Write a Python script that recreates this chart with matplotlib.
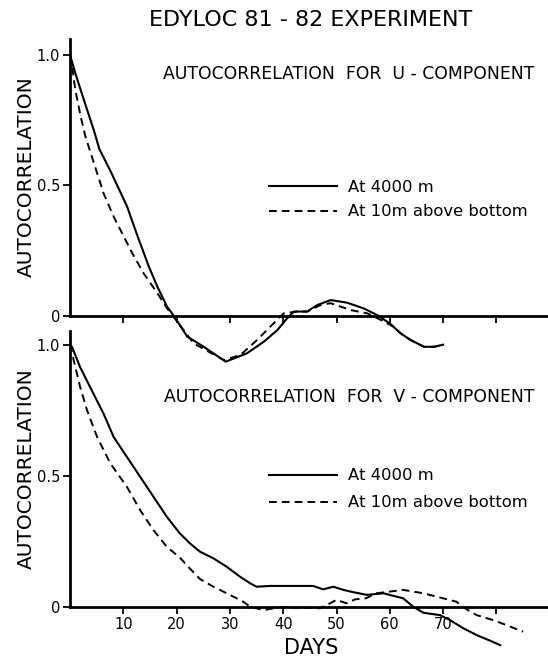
import matplotlib
matplotlib.use("Agg")
import matplotlib.pyplot as plt

# U-component autocorrelation (top panel)
u_days_4000 = [0, 1, 2.6, 4.5, 5.5, 7.6, 10.7, 12.6, 14.8, 16.4, 18.2, 19.5, 22, 25.1,
               29.2, 33.2, 36.4, 38.9, 40.7, 42, 44.5, 46.4, 48.9, 52, 55.1, 57.6,
               60.1, 62, 63.9, 66.4, 68.3, 70]
u_vals_4000 = [1.0, 0.93, 0.828, 0.71, 0.64, 0.555, 0.42, 0.31, 0.189, 0.112, 0.036,
               0.0, -0.079, -0.118, -0.175, -0.143, -0.098, -0.054, -0.01, 0.017, 0.017,
               0.042, 0.061, 0.051, 0.029, 0.004, -0.03, -0.066, -0.092, -0.118, -0.118,
               -0.11]
u_days_10m = [0, 0.4, 1.0, 2.0, 2.9, 4.5, 6.3, 8.2, 10.1, 11.7, 13.8, 16.4, 18.2, 19.5,
              23.2, 28.9, 32, 35.1, 38.2, 40.1, 42.6, 44.5, 47, 48.9, 52.6, 55.8, 58.3,
              60.7, 62, 63.9, 66.4, 68.3, 70]
u_vals_10m = [1.0, 0.955, 0.866, 0.764, 0.687, 0.585, 0.47, 0.38, 0.304, 0.24, 0.164,
              0.087, 0.03, -0.005, -0.105, -0.169, -0.149, -0.092, -0.028, 0.01, 0.017,
              0.017, 0.042, 0.049, 0.023, 0.01, -0.015, -0.041, -0.066, -0.092, -0.118,
              -0.118, -0.11]

# V-component autocorrelation (bottom panel)
v_days_4000 = [0, 0.4, 1.9, 4.4, 6.3, 8.2, 10.7, 13.2, 15.7, 18.2, 20.6, 22.5, 24.4,
               26.9, 29.4, 31.9, 33.8, 35.0, 37.5, 45.6, 47.5, 49.4, 51.3, 53.2, 55.7,
               58.8, 62.5, 64.4, 66.3, 69.4, 71.3, 73.8, 76.3, 78.8, 80.7]
v_vals_4000 = [1.0, 0.99, 0.914, 0.813, 0.737, 0.648, 0.572, 0.496, 0.42, 0.344, 0.282,
               0.244, 0.212, 0.187, 0.155, 0.117, 0.092, 0.079, 0.082, 0.082, 0.069,
               0.079, 0.067, 0.058, 0.048, 0.054, 0.035, 0.003, -0.02, -0.029, -0.048,
               -0.079, -0.105, -0.126, -0.143]
v_days_10m = [0, 0.7, 1.9, 3.2, 5.1, 7.6, 10.7, 13.2, 15.7, 18.2, 20.6, 22.5, 24.4,
              26.9, 30.0, 32.5, 33.8, 36.3, 39.4, 46.9, 48.8, 50.0, 51.9, 53.5, 55.5,
              57.5, 62.5, 66.3, 70.0, 72.5, 74.1, 76.3, 79.4, 81.9, 85.0]
v_vals_10m = [1.0, 0.94, 0.839, 0.75, 0.648, 0.547, 0.458, 0.369, 0.293, 0.23, 0.19,
              0.148, 0.108, 0.079, 0.048, 0.022, 0.003, -0.01, 0.001, -0.003, 0.016,
              0.029, 0.016, 0.031, 0.035, 0.054, 0.067, 0.054, 0.035, 0.022, -0.003,
              -0.029, -0.048, -0.067, -0.092]

x_ticks = [10, 20, 30, 40, 50, 60, 70, 80]
x_tick_labels = ["10", "20", "30", "40", "50", "60", "70", ""]
y_ticks = [0, 0.5, 1.0]
y_tick_labels = ["0", "0.5", "1.0"]
series_labels = ["At 4000 m", "At 10m above bottom"]

W, H = 548, 660
X0 = 70          # pixel column of day 0
PX_PER_DAY = 5.33
DASH = (4, 2.6)


def px_box(left, top, right, bottom):
    """Figure-fraction rectangle from pixel edges"""
    return [left / W, 1 - bottom / H, (right - left) / W, (bottom - top) / H]


def style_panel(ax, ylim, show_xlabels):
    ax.set_xlim(0, (W - X0) / PX_PER_DAY)
    ax.set_ylim(*ylim)
    ax.patch.set_alpha(0)
    for side in ["top", "right"]:
        ax.spines[side].set_visible(False)
    ax.spines["bottom"].set_position(("data", 0))
    ax.spines["left"].set_bounds(0, ylim[1])
    for side in ["left", "bottom"]:
        ax.spines[side].set_linewidth(2.0)
    ax.set_yticks(y_ticks)
    ax.set_yticklabels(y_tick_labels, fontsize=10.5)
    ax.set_xticks(x_ticks)
    if show_xlabels:
        ax.set_xticklabels(x_tick_labels, fontsize=10.5)
    else:
        ax.set_xticklabels([])
    ax.tick_params(axis="both", direction="out", length=5, width=1.3, pad=2)


def draw_panel(fig, ax, days_a, vals_a, days_b, vals_b, title, title_y,
               legend_top, legend_gap):
    ax.plot(days_a, vals_a, color="black", lw=1.5, label=series_labels[0])
    ax.plot(days_b, vals_b, color="black", lw=1.4, dashes=DASH, label=series_labels[1])
    fig.text(349 / W, 1 - title_y / H, title, ha="center", va="center", fontsize=12.4)
    ax.legend(loc="upper left", bbox_to_anchor=(269 / W, 1 - legend_top / H),
              bbox_transform=fig.transFigure, frameon=False, fontsize=11.8,
              handlelength=4.15, handletextpad=0.67, labelspacing=legend_gap,
              borderpad=0, borderaxespad=0)


def main():
    fig = plt.figure(figsize=(W / 100, H / 100), dpi=100)

    ax_u = fig.add_axes(px_box(X0, 39.3, W, 368.2))
    ax_v = fig.add_axes(px_box(X0, 331.4, W, 652.2))

    style_panel(ax_u, (-0.2, 1.06), False)
    style_panel(ax_v, (-0.17, 1.05), True)

    draw_panel(fig, ax_u, u_days_4000, u_vals_4000, u_days_10m, u_vals_10m,
               "AUTOCORRELATION  FOR  U - COMPONENT", 74, 179.5, 0.6)
    draw_panel(fig, ax_v, v_days_4000, v_vals_4000, v_days_10m, v_vals_10m,
               "AUTOCORRELATION  FOR  V - COMPONENT", 397, 468.5, 0.72)

    fig.text(311 / W, 1 - 20 / H, "EDYLOC 81 - 82 EXPERIMENT",
             ha="center", va="center", fontsize=16)
    for yc in [177, 469]:
        fig.text(26 / W, 1 - yc / H, "AUTOCORRELATION", rotation=90,
                 ha="center", va="center", fontsize=14.5)
    fig.text(311 / W, 1 - 648 / H, "DAYS", ha="center", va="center", fontsize=15)

    fig.savefig("out.png", dpi=100)


if __name__ == "__main__":
    main()
